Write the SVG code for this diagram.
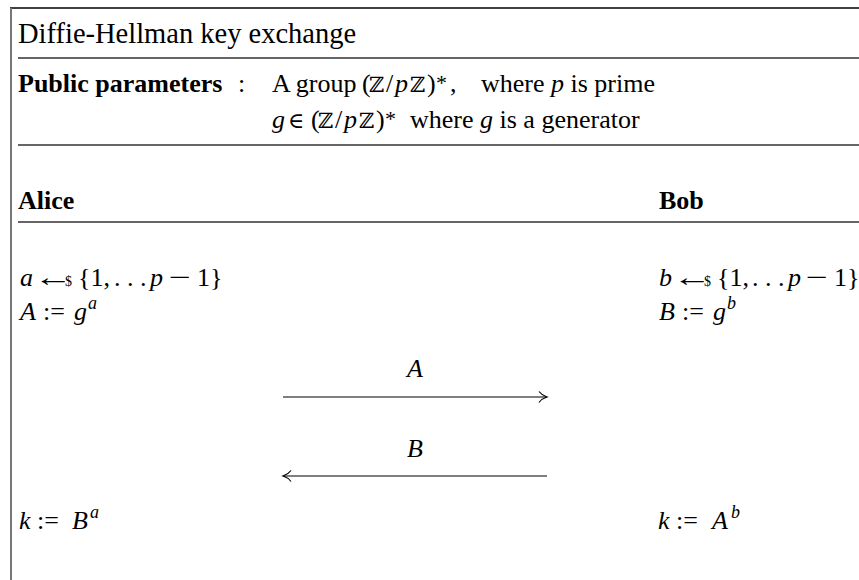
<svg xmlns="http://www.w3.org/2000/svg" width="859" height="580" viewBox="0 0 859 580">
<style>
text{font-family:"Liberation Serif","DejaVu Serif",serif;font-size:26px;fill:#000}
.t{font-size:28.5px}
.b{font-weight:bold}
.i{font-style:italic}
.sup{font-size:18px;font-style:italic}
.ds{font-family:"DejaVu Serif","DejaVu Sans",serif;font-size:21px}
.sm{font-size:14px}
.rule{stroke:#333;stroke-width:1.3;fill:none}
.msg{stroke:#000;stroke-width:1.2;fill:none}
</style>
<defs>
<marker id="head" markerUnits="userSpaceOnUse" markerWidth="14" markerHeight="14" refX="12" refY="7" orient="auto-start-reverse" viewBox="0 0 14 14">
<path d="M4,1.5 Q7,5.5 12,7 Q7,8.5 4,12.5" fill="none" stroke="#000" stroke-width="1.2"/>
</marker>
</defs>
<g id="frame">
<line x1="10" y1="8" x2="859" y2="8" stroke="#000" stroke-width="1.3"/>
<line x1="11" y1="8" x2="11" y2="580" stroke="#777" stroke-width="2"/>
<line class="rule" x1="18" y1="58" x2="859" y2="58"/>
<line class="rule" x1="18" y1="145" x2="859" y2="145"/>
<line class="rule" x1="18" y1="222" x2="859" y2="222"/>
</g>
<g id="title"><text class="t" x="18" y="43">Diffie-Hellman key exchange</text></g>
<g id="params">
<text class="b" x="18" y="92">Public parameters</text>
<text x="238" y="92">:</text>
<text x="272" y="92">A group<tspan x="362">(</tspan><tspan x="369" class="ds">ℤ</tspan><tspan x="386">/</tspan><tspan x="395" class="i">p</tspan><tspan x="410" class="ds">ℤ</tspan><tspan x="427">)</tspan><tspan x="436" dy="-2" font-size="22">*</tspan><tspan x="450" dy="2">,</tspan><tspan x="481">where </tspan><tspan class="i">p</tspan> is prime</text>
<text x="272" y="128"><tspan class="i">g</tspan><tspan x="288" font-size="22">∈</tspan><tspan x="311">(</tspan><tspan x="318" class="ds">ℤ</tspan><tspan x="335">/</tspan><tspan x="344" class="i">p</tspan><tspan x="359" class="ds">ℤ</tspan><tspan x="376">)</tspan><tspan x="385" dy="-2" font-size="22">*</tspan><tspan dy="2" x="410">where </tspan><tspan class="i">g</tspan> is a generator</text>
</g>
<g id="alice-header"><text class="b" x="18" y="209">Alice</text></g>
<g id="bob-header"><text class="b" x="659" y="209">Bob</text></g>
<g id="alice-steps">
<text x="20" y="286"><tspan class="i">a</tspan><tspan x="65" class="sm">$</tspan><tspan x="78">{1,</tspan><tspan x="114">. . .</tspan><tspan x="150" class="i">p</tspan><tspan x="197">1}</tspan></text>
<text transform="translate(34,286) scale(1.5,1)" x="0" y="0">←</text>
<text transform="translate(169,286) scale(1.5,1)" x="0" y="0">−</text>
<text x="20" y="320"><tspan class="i">A</tspan><tspan x="43">:=</tspan><tspan x="74" class="i">g</tspan><tspan x="88" dy="-11" class="sup">a</tspan></text>
<text x="19" y="529"><tspan class="i">k</tspan><tspan x="37">:=</tspan><tspan x="72" class="i">B</tspan><tspan x="90" dy="-11" class="sup">a</tspan></text>
</g>
<g id="bob-steps">
<text x="659" y="286"><tspan class="i">b</tspan><tspan x="704" class="sm">$</tspan><tspan x="717">{1,</tspan><tspan x="752">. . .</tspan><tspan x="788" class="i">p</tspan><tspan x="834">1}</tspan></text>
<text transform="translate(673,286) scale(1.5,1)" x="0" y="0">←</text>
<text transform="translate(806,286) scale(1.5,1)" x="0" y="0">−</text>
<text x="659" y="320"><tspan class="i">B</tspan><tspan x="682">:=</tspan><tspan x="713" class="i">g</tspan><tspan x="727" dy="-11" class="sup">b</tspan></text>
<text x="658" y="529"><tspan class="i">k</tspan><tspan x="676">:=</tspan><tspan x="712" class="i">A</tspan><tspan x="731" dy="-11" class="sup">b</tspan></text>
</g>
<g id="connectors">
<line class="msg" x1="283" y1="397" x2="547" y2="397" marker-end="url(#head)"/>
<text class="i" x="415" y="377" text-anchor="middle">A</text>
<line class="msg" x1="547" y1="476" x2="283" y2="476" marker-end="url(#head)"/>
<text class="i" x="415" y="457" text-anchor="middle">B</text>
</g>
</svg>
